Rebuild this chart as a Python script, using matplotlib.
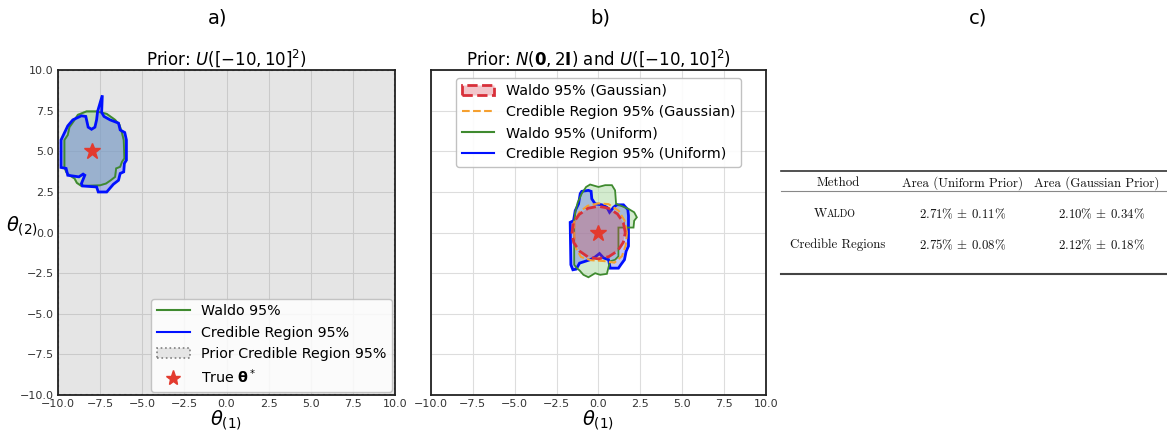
import matplotlib
matplotlib.use("Agg")
from matplotlib import pyplot as plt
from matplotlib.patches import Patch
from matplotlib.lines import Line2D

# panel a: uniform prior, true theta at (-8, 5)
theta_a = (-8.0, 5.0)
waldo_a_x = [-8.82, -8.31, -7.71, -7.11, -6.61, -6.35, -6.20, -6.10, -6.06, -6.20, -6.31, -6.55, -6.61,
             -6.87, -7.15, -7.51, -8.61, -8.88, -9.02, -9.32, -9.52, -9.62, -9.62, -9.42, -9.32, -9.08]
waldo_a_y = [7.25, 7.46, 7.46, 7.31, 6.94, 6.63, 6.12, 5.70, 4.57, 4.36, 4.05, 3.95, 3.43,
             3.22, 3.02, 2.91, 2.87, 3.06, 3.33, 3.53, 3.74, 4.05, 5.70, 6.01, 6.49, 6.84]
cred_a_x = [-9.82, -9.42, -9.12, -8.61, -8.35, -8.21, -8.01, -7.81, -7.71, -7.65, -7.37, -7.41, -7.27,
            -6.91, -6.41, -6.31, -6.04, -5.94, -5.94, -6.06, -6.10, -6.31, -6.41, -6.71, -7.11, -7.61,
            -7.71, -8.55, -8.61, -8.41, -8.51, -8.76, -9.02, -9.42, -9.52, -9.82]
cred_a_y = [5.70, 6.57, 6.94, 7.19, 7.15, 6.49, 6.36, 6.49, 6.94, 7.46, 8.45, 7.40, 7.15,
            6.94, 6.74, 6.32, 6.16, 5.70, 4.46, 4.26, 3.74, 3.64, 3.22, 2.98, 2.50, 2.50,
            2.81, 2.87, 3.02, 3.53, 3.60, 3.43, 3.47, 3.53, 3.95, 4.01]
prior_x = [-10, 10, 10, -10]
prior_y = [-10, -10, 10, 10]

# panel b: gaussian and uniform priors, true theta at (0, 0)
theta_b = (0.0, 0.0)
waldo_gauss_x = [1.60, 1.48, 1.13, 0.60, 0.00, -0.62, -1.15, -1.50, -1.58, -1.48, -1.12, -0.60, 0.00, 0.62, 1.15, 1.48]
waldo_gauss_y = [0.00, 0.62, 1.15, 1.50, 1.62, 1.50, 1.12, 0.60, 0.00, -0.62, -1.15, -1.52, -1.62, -1.48, -1.12, -0.60]
cred_gauss_x = [1.70, 1.55, 1.20, 0.60, 0.00, -0.65, -1.15, -1.45, -1.45, -1.35, -1.05, -0.45, 0.30, 0.95, 1.40, 1.62]
cred_gauss_y = [0.00, 0.75, 1.35, 1.75, 1.80, 1.65, 1.25, 0.65, -0.20, -0.95, -1.50, -1.70, -1.75, -1.85, -1.45, -0.80]
waldo_unif_x = [-0.74, -0.50, 0.00, 0.40, 0.80, 0.99, 1.05, 1.79, 2.13, 2.29, 2.13, 2.09, 1.19, 1.19, 0.99,
                0.70, 0.60, 0.50, 0.10, -0.20, -0.60, -0.90, -1.13, -1.29, -1.45, -1.45, -1.39, -1.25, -1.00]
waldo_unif_y = [2.81, 2.96, 2.81, 2.92, 2.92, 2.60, 1.77, 1.46, 1.25, 0.94, 0.73, 0.31, 0.31, -1.46, -1.67,
                -1.77, -2.13, -2.54, -2.60, -2.50, -2.75, -2.60, -2.33, -2.19, -1.98, 0.63, 1.25, 1.83, 2.40]
cred_unif_x = [-1.09, -1.00, -0.60, -0.44, -0.40, -0.20, 0.20, 0.50, 0.66, 0.90, 1.09, 1.49, 1.75, 1.79, 1.79,
               1.65, 1.55, 1.33, 1.19, 0.70, 0.60, 0.30, 0.06, -0.20, -0.50, -0.80, -1.13, -1.33, -1.53,
               -1.65, -1.69, -1.49, -1.39, -1.19]
cred_unif_y = [2.40, 2.54, 2.60, 2.54, 2.08, 1.77, 1.71, 1.56, 1.25, 1.56, 1.71, 1.71, 1.42, 1.04, -0.83,
               -1.15, -1.67, -1.98, -2.19, -2.19, -1.67, -1.56, -1.29, -1.50, -1.67, -1.77, -1.88, -2.25, -2.29,
               -1.98, 0.63, 0.73, 1.35, 1.77]

# panel c: table
table_header = ["Method", "Area (Uniform Prior)", "Area (Gaussian Prior)"]
table_methods = ["Waldo", "Credible Regions"]
area_uniform = ["2.71% $\\pm$ 0.11%", "2.75% $\\pm$ 0.08%"]
area_gauss = ["2.10% $\\pm$ 0.34%", "2.12% $\\pm$ 0.18%"]

ticks = [-10, -7.5, -5, -2.5, 0, 2.5, 5, 7.5, 10]
tick_labels = ["\u221210.0", "\u22127.5", "\u22125.0", "\u22122.5", "0.0", "2.5", "5.0", "7.5", "10.0"]

GREEN = "#3f8a2f"
BLUE = "#0010ff"
RED = "#e33a2e"
ORANGE = "#f5a030"
DASHRED = "#d8303a"

fig = plt.figure(figsize=(11.67, 4.32), dpi=100)
ax_a = fig.add_axes([0.0497, 0.0856, 0.2888, 0.752])
ax_b = fig.add_axes([0.3693, 0.0856, 0.2871, 0.752])
ax_c = fig.add_axes([0.668, 0.0856, 0.332, 0.752])


def style_axes(ax, ylabels=True):
    ax.set_xlim(-10, 10)
    ax.set_ylim(-10, 10)
    ax.set_xticks(ticks)
    ax.set_yticks(ticks)
    ax.set_xticklabels(tick_labels)
    ax.set_yticklabels(tick_labels if ylabels else [])
    ax.tick_params(length=0, labelsize=8, colors="#333333", pad=3)
    ax.grid(True, color="#dddddd", lw=0.8)
    ax.set_axisbelow(True)
    for s in ax.spines.values():
        s.set_color("#222222")
        s.set_linewidth(1.3)
    ax.set_xlabel(r"$\theta_{(1)}$", fontsize=14, labelpad=0)


# ---- a)
style_axes(ax_a)
ax_a.fill(prior_x, prior_y, facecolor="gray", alpha=0.2, edgecolor="none", zorder=1)
ax_a.fill(prior_x, prior_y, facecolor="none", edgecolor="gray", ls=":", lw=1.5, zorder=1)
ax_a.fill(waldo_a_x, waldo_a_y, facecolor="#8fcf86", alpha=0.45, edgecolor=GREEN, lw=1.5, zorder=2)
ax_a.fill(cred_a_x, cred_a_y, facecolor="#6f7fe8", alpha=0.45, edgecolor="none", zorder=3)
ax_a.fill(cred_a_x, cred_a_y, facecolor="none", edgecolor=BLUE, lw=2, zorder=4)
ax_a.fill(waldo_a_x, waldo_a_y, facecolor="none", edgecolor=GREEN, lw=1.3, zorder=3.5)
ax_a.plot(*theta_a, marker="*", color=RED, ms=12, ls="none", zorder=5)
ax_a.set_title(r"Prior: $U([-10, 10]^2)$", fontsize=12, pad=4)
ax_a.set_ylabel(r"$\theta_{(2)}$", fontsize=14, rotation=0, va="center", ha="center")
ax_a.yaxis.set_label_coords(-0.108, 0.52)
handles_a = [
    Line2D([], [], color=GREEN, lw=1.5),
    Line2D([], [], color=BLUE, lw=1.5),
    Patch(facecolor="#e5e5e5", edgecolor="gray", ls=":", lw=1.2),
    Line2D([], [], color=RED, marker="*", ls="none", ms=11),
]
ax_a.legend(handles_a, ["Waldo 95%", "Credible Region 95%", "Prior Credible Region 95%",
                        r"True $\mathbf{\theta}^*$"],
            loc="lower right", fontsize=10.3, frameon=True, framealpha=0.85,
            edgecolor="#bbbbbb", borderaxespad=0.2, handlelength=2.3)

# ---- b)
style_axes(ax_b, ylabels=False)
ax_b.fill(waldo_unif_x, waldo_unif_y, facecolor="#a8d89e", alpha=0.5, edgecolor="none", zorder=2)
ax_b.fill(cred_unif_x, cred_unif_y, facecolor="#6f7fe8", alpha=0.45, edgecolor="none", zorder=3)
ax_b.fill(cred_unif_x, cred_unif_y, facecolor="none", edgecolor=BLUE, lw=2, zorder=4)
ax_b.fill(waldo_unif_x, waldo_unif_y, facecolor="none", edgecolor=GREEN, lw=1.3, zorder=4.5)
ax_b.fill(cred_gauss_x, cred_gauss_y, facecolor="none", edgecolor=ORANGE, ls="--", lw=1.5, zorder=5)
ax_b.fill(waldo_gauss_x, waldo_gauss_y, facecolor="#d84050", alpha=0.3, edgecolor="none", zorder=5.5)
ax_b.fill(waldo_gauss_x, waldo_gauss_y, facecolor="none", edgecolor=DASHRED, ls="--", lw=2, zorder=6)
ax_b.plot(*theta_b, marker="*", color=RED, ms=12, ls="none", zorder=7)
ax_b.set_title(r"Prior: $N(\mathbf{0}, 2\mathbf{I})$ and $U([-10, 10]^2)$", fontsize=12, pad=4)
handles_b = [
    Patch(facecolor="#f2c6cb", edgecolor=DASHRED, ls="--", lw=2),
    Line2D([], [], color=ORANGE, ls="--", lw=1.5),
    Line2D([], [], color=GREEN, lw=1.5),
    Line2D([], [], color=BLUE, lw=1.5),
]
ax_b.legend(handles_b, ["Waldo 95% (Gaussian)", "Credible Region 95% (Gaussian)",
                        "Waldo 95% (Uniform)", "Credible Region 95% (Uniform)"],
            loc="upper center", fontsize=10.3, frameon=True, framealpha=0.9,
            edgecolor="#bbbbbb", borderaxespad=0.55, handlelength=2.3)

# ---- c) table
ax_c.set_xlim(0, 1)
ax_c.set_ylim(0, 1)
ax_c.axis("off")
W = 1167 * 0.332
H = 432 * 0.752


def px(x, y):
    # pixel position in the figure -> axes fraction of ax_c
    return (x - 1167 * 0.668) / W, (432 - y - 432 * 0.0856) / H


def rule(y, lw, color):
    x0, yy = px(781, y)
    x1, _ = px(1167, y)
    ax_c.plot([x0, x1 + 0.05], [yy, yy], color=color, lw=lw, clip_on=False)


rule(171.5, 1.2, "#333333")
rule(191.5, 0.8, "#888888")
rule(274, 1.5, "#444444")

tkw = dict(fontfamily="cmr10", math_fontfamily="cm", fontsize=9.3, va="center", color="#111111")
col_x = [838, 963, 1101.5]
ax_c.text(*px(838, 183), table_header[0], ha="center", **tkw)
ax_c.text(*px(963, 183), table_header[1], ha="center", **tkw)
ax_c.text(*px(1034, 183), table_header[2], ha="left", clip_on=False, **tkw)

row_y = [214, 245]
# Waldo in small caps
ax_c.text(*px(827, row_y[0]), table_methods[0][0], ha="right", **tkw)
sc = dict(tkw)
sc["fontsize"] = 7.2
ax_c.text(*px(827, row_y[0]), table_methods[0][1:].upper(), ha="left", **sc)
ax_c.text(*px(col_x[0], row_y[1]), table_methods[1], ha="center", **tkw)
for i in range(2):
    ax_c.text(*px(col_x[1], row_y[i]), area_uniform[i], ha="center", **tkw)
    ax_c.text(*px(col_x[2], row_y[i]), area_gauss[i], ha="center", **tkw)

fig.text(218 / 1167, 1 - 18 / 432, "a)", fontsize=14, ha="center", va="center")
fig.text(600 / 1167, 1 - 18 / 432, "b)", fontsize=14, ha="center", va="center")
fig.text(978 / 1167, 1 - 18 / 432, "c)", fontsize=14, ha="center", va="center")

fig.savefig("out.png", dpi=100)
